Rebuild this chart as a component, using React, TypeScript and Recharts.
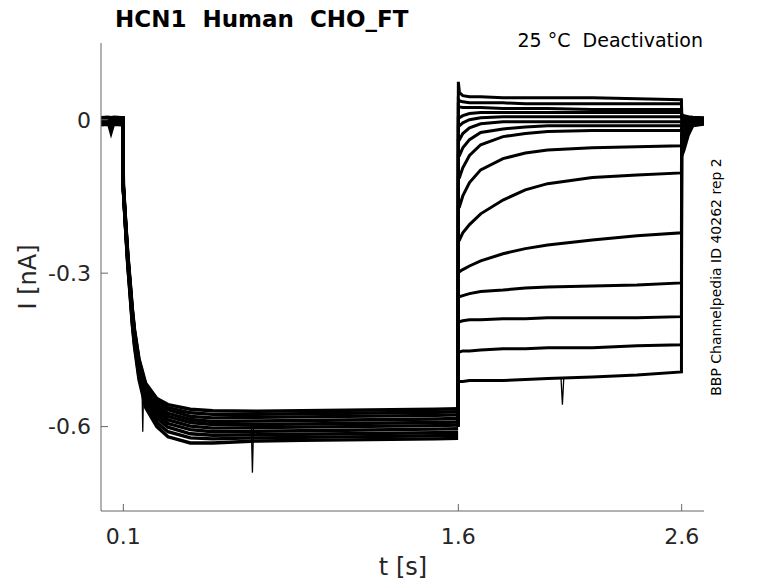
import React from 'react';
import { LineChart, Line, XAxis, YAxis } from 'recharts';

// ---- axis / labels ----
const TITLE = 'HCN1  Human  CHO_FT';
const CONDITION = '25 °C  Deactivation';
const SIDE_NOTE = 'BBP Channelpedia ID 40262 rep 2';
const X_LABEL = 't [s]';
const Y_LABEL = 'I [nA]';
const X_TICKS = [0.1, 1.6, 2.6];
const Y_TICKS = [-0.6, -0.3, 0];
const X_DOMAIN = [0, 2.7];
const Y_DOMAIN = [-0.765, 0.15];

// ---- activation phase (hyperpolarising step, 0 .. 1.6 s) ----
const actTimes = [0, 0.03, 0.045, 0.06, 0.09, 0.0995, 0.1, 0.11, 0.12, 0.13, 0.14, 0.15, 0.17, 0.2, 0.25, 0.3, 0.4, 0.5, 0.7, 0.9, 1.1, 1.3, 1.5, 1.599];
const act1 = [0.004, 0.005, 0.004, 0.005, 0.004, 0.004, -0.125, -0.195, -0.262, -0.314, -0.368, -0.41, -0.467, -0.515, -0.545, -0.557, -0.566, -0.569, -0.57, -0.569, -0.568, -0.567, -0.566, -0.565];
const act2 = [0.001, 0.002, -0.001, 0.002, 0.001, 0.002, -0.128, -0.198, -0.265, -0.317, -0.371, -0.413, -0.47, -0.519, -0.55, -0.563, -0.573, -0.576, -0.576, -0.575, -0.574, -0.573, -0.572, -0.571];
const act3 = [-0.002, -0.001, -0.025, -0.002, 0.0, -0.001, -0.13, -0.2, -0.268, -0.319, -0.374, -0.415, -0.473, -0.522, -0.553, -0.567, -0.58, -0.583, -0.582, -0.581, -0.58, -0.579, -0.578, -0.577];
const act4 = [-0.004, -0.003, -0.004, -0.003, -0.004, -0.003, -0.132, -0.202, -0.27, -0.322, -0.377, -0.418, -0.477, -0.527, -0.559, -0.574, -0.586, -0.59, -0.589, -0.588, -0.587, -0.586, -0.585, -0.584];
const act5 = [0.002, 0.003, 0.002, 0.001, 0.003, 0.002, -0.133, -0.204, -0.272, -0.325, -0.38, -0.422, -0.481, -0.531, -0.564, -0.58, -0.592, -0.596, -0.596, -0.595, -0.594, -0.593, -0.592, -0.591];
const act6 = [-0.006, -0.005, -0.006, -0.005, -0.006, -0.005, -0.134, -0.206, -0.275, -0.328, -0.384, -0.426, -0.486, -0.537, -0.57, -0.587, -0.599, -0.603, -0.602, -0.601, -0.6, -0.599, -0.598, -0.597];
const act7 = [0.0, 0.001, 0.0, 0.001, 0.0, 0.001, -0.135, -0.208, -0.277, -0.331, -0.388, -0.43, -0.491, -0.543, -0.577, -0.594, -0.606, -0.61, -0.609, -0.608, -0.607, -0.606, -0.605, -0.604];
const act8 = [-0.008, -0.007, -0.008, -0.007, -0.008, -0.007, -0.136, -0.21, -0.28, -0.334, -0.392, -0.434, -0.496, -0.549, -0.584, -0.601, -0.614, -0.617, -0.616, -0.615, -0.614, -0.613, -0.612, -0.611];
const act9 = [-0.003, -0.002, -0.003, -0.002, -0.003, -0.002, -0.137, -0.212, -0.283, -0.338, -0.396, -0.439, -0.502, -0.556, -0.592, -0.61, -0.622, -0.624, -0.622, -0.621, -0.62, -0.619, -0.618, -0.617];
const act10 = [-0.01, -0.009, -0.01, -0.009, -0.01, -0.009, -0.138, -0.214, -0.286, -0.342, -0.4, -0.444, -0.508, -0.563, -0.6, -0.62, -0.632, -0.632, -0.628, -0.627, -0.626, -0.625, -0.624, -0.623];
const actTraces = [act1, act2, act3, act4, act5, act6, act7, act8, act9, act10];

// ---- deactivation tails (1.6 .. 2.7 s) ----
const tailTimes = [1.599, 1.6, 1.605, 1.62, 1.65, 1.7, 1.8, 1.9, 2.0, 2.2, 2.4, 2.599, 2.6, 2.61, 2.63, 2.65, 2.7];
const tail1 = [-0.585, 0.074, 0.053, 0.047, 0.045, 0.045, 0.043, 0.043, 0.043, 0.043, 0.041, 0.039, 0.01, 0.008, 0.006, 0.005, 0.004];
const tail2 = [-0.587, 0.039, 0.037, 0.035, 0.033, 0.033, 0.033, 0.031, 0.031, 0.031, 0.031, 0.031, 0.008, 0.007, 0.005, 0.004, 0.003];
const tail3 = [-0.589, 0.027, 0.025, 0.024, 0.024, 0.024, 0.022, 0.022, 0.022, 0.02, 0.02, 0.02, 0.006, 0.005, 0.004, 0.003, 0.002];
const tail4 = [-0.591, 0.004, 0.004, 0.008, 0.012, 0.014, 0.014, 0.014, 0.014, 0.014, 0.014, 0.014, 0.004, 0.004, 0.003, 0.002, 0.001];
const tail5 = [-0.593, -0.012, -0.012, -0.006, 0.0, 0.004, 0.006, 0.006, 0.006, 0.006, 0.006, 0.006, 0.002, 0.002, 0.002, 0.001, 0.0];
const tail6 = [-0.595, -0.039, -0.039, -0.027, -0.016, -0.008, -0.004, -0.004, -0.004, -0.004, -0.004, -0.004, -0.002, 0.0, 0.001, 0.001, 0.0];
const tail7 = [-0.597, -0.07, -0.07, -0.055, -0.039, -0.025, -0.018, -0.014, -0.012, -0.012, -0.012, -0.012, -0.006, -0.003, 0.0, 0.0, -0.001];
const tail8 = [-0.599, -0.113, -0.113, -0.094, -0.07, -0.049, -0.033, -0.027, -0.023, -0.021, -0.021, -0.021, -0.01, -0.006, -0.002, 0.0, -0.002];
const tail9 = [-0.6, -0.17, -0.17, -0.149, -0.123, -0.098, -0.076, -0.065, -0.059, -0.055, -0.053, -0.051, -0.018, -0.012, -0.005, -0.002, -0.003];
const tail10 = [-0.601, -0.235, -0.235, -0.221, -0.205, -0.184, -0.157, -0.137, -0.125, -0.113, -0.108, -0.104, -0.028, -0.02, -0.008, -0.003, -0.004];
const tail11 = [-0.6, -0.297, -0.297, -0.293, -0.286, -0.276, -0.262, -0.252, -0.245, -0.235, -0.227, -0.221, -0.04, -0.03, -0.013, -0.005, -0.005];
const tail12 = [-0.599, -0.346, -0.346, -0.344, -0.34, -0.336, -0.333, -0.329, -0.327, -0.325, -0.323, -0.319, -0.05, -0.038, -0.018, -0.007, -0.006];
const tail13 = [-0.598, -0.395, -0.395, -0.393, -0.391, -0.391, -0.389, -0.389, -0.387, -0.387, -0.387, -0.385, -0.058, -0.046, -0.022, -0.009, -0.007];
const tail14 = [-0.597, -0.454, -0.454, -0.452, -0.452, -0.45, -0.448, -0.448, -0.446, -0.446, -0.442, -0.44, -0.065, -0.052, -0.026, -0.011, -0.008];
const tail15 = [-0.596, -0.512, -0.512, -0.512, -0.51, -0.51, -0.51, -0.508, -0.506, -0.503, -0.499, -0.493, -0.072, -0.06, -0.03, -0.012, -0.009];
const tailTraces = [tail1, tail2, tail3, tail4, tail5, tail6, tail7, tail8, tail9, tail10, tail11, tail12, tail13, tail14, tail15];

// ---- isolated spikes ----
const spikeA_t = [0.104, 0.1065, 0.109];
const spikeA_v = [-0.16, -0.22, -0.185];
const spikeB_t = [0.183, 0.187, 0.191];
const spikeB_v = [-0.505, -0.61, -0.515];
const spikeC_t = [0.673, 0.678, 0.683];
const spikeC_v = [-0.6, -0.69, -0.6];
const spikeD_t = [2.06, 2.066, 2.072];
const spikeD_v = [-0.507, -0.557, -0.506];
const spikes = [
  [spikeA_t, spikeA_v],
  [spikeB_t, spikeB_v],
  [spikeC_t, spikeC_v],
  [spikeD_t, spikeD_v],
];

const toSeries = (times: number[], values: number[]) =>
  times.map((t, i) => ({ t, v: values[i] }));

const FONT = 'DejaVu Sans';
const AXIS_COLOR = '#666666';
const TEXT_COLOR = '#262626';

export default function App() {
  return (
    <div style={{ position: 'absolute', left: 0, top: 0, width: 778, height: 583, background: '#fff' }}>
      <LineChart width={778} height={583} margin={{ top: 43, right: 74, bottom: 12, left: 41 }}>
        <XAxis
          type="number"
          dataKey="t"
          domain={X_DOMAIN}
          ticks={X_TICKS}
          allowDataOverflow
          height={60}
          tickSize={-7}
          tickMargin={24}
          tickFormatter={(v: number) => String(v)}
          axisLine={{ stroke: AXIS_COLOR, strokeWidth: 1 }}
          tickLine={{ stroke: AXIS_COLOR, strokeWidth: 1 }}
          tick={{ fill: TEXT_COLOR, fontSize: 22, fontFamily: FONT }}
        />
        <YAxis
          type="number"
          dataKey="v"
          domain={Y_DOMAIN}
          ticks={Y_TICKS}
          allowDataOverflow
          width={60}
          tickSize={-7}
          tickMargin={17}
          tickFormatter={(v: number) => (v === 0 ? '0' : v.toFixed(1))}
          axisLine={{ stroke: AXIS_COLOR, strokeWidth: 1 }}
          tickLine={{ stroke: AXIS_COLOR, strokeWidth: 1 }}
          tick={{ fill: TEXT_COLOR, fontSize: 22, fontFamily: FONT }}
        />
        {actTraces.map((vals, i) => (
          <Line
            key={'a' + i}
            data={toSeries(actTimes, vals)}
            dataKey="v"
            type="linear"
            stroke="#000"
            strokeWidth={3.4}
            dot={false}
            activeDot={false}
            isAnimationActive={false}
          />
        ))}
        {tailTraces.map((vals, i) => (
          <Line
            key={'d' + i}
            data={toSeries(tailTimes, vals)}
            dataKey="v"
            type="linear"
            stroke="#000"
            strokeWidth={3}
            dot={false}
            activeDot={false}
            isAnimationActive={false}
          />
        ))}
        {spikes.map(([ts, vs], i) => (
          <Line
            key={'s' + i}
            data={toSeries(ts, vs)}
            dataKey="v"
            type="linear"
            stroke="#000"
            strokeWidth={1.3}
            dot={false}
            activeDot={false}
            isAnimationActive={false}
          />
        ))}
      </LineChart>
      <svg
        width={778}
        height={583}
        style={{ position: 'absolute', left: 0, top: 0, pointerEvents: 'none' }}
      >
        <text x={115} y={26.5} fontFamily={FONT} fontWeight="bold" fontSize={23} fill="#000" style={{ whiteSpace: 'pre' }}>
          {TITLE}
        </text>
        <text x={703} y={47} textAnchor="end" fontFamily={FONT} fontSize={19} fill="#000" style={{ whiteSpace: 'pre' }}>
          {CONDITION}
        </text>
        <text
          x={721}
          y={277}
          textAnchor="middle"
          fontFamily={FONT}
          fontSize={14}
          fill="#000"
          transform="rotate(-90 721 277)"
        >
          {SIDE_NOTE}
        </text>
        <text x={403} y={575} textAnchor="middle" fontFamily={FONT} fontSize={24} fill={TEXT_COLOR}>
          {X_LABEL}
        </text>
        <text
          x={36}
          y={277}
          textAnchor="middle"
          fontFamily={FONT}
          fontSize={24}
          fill={TEXT_COLOR}
          transform="rotate(-90 36 277)"
        >
          {Y_LABEL}
        </text>
      </svg>
    </div>
  );
}
